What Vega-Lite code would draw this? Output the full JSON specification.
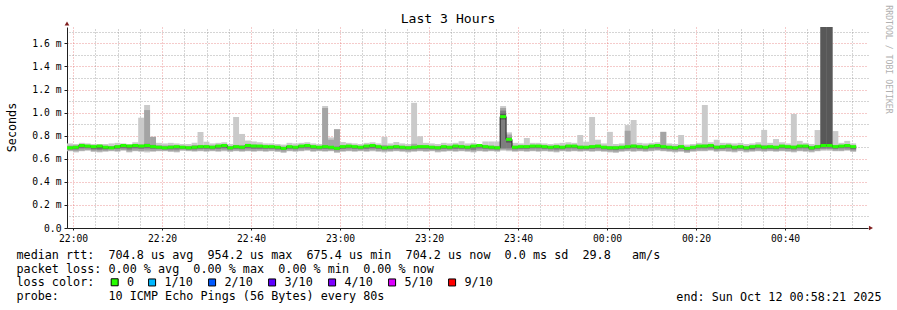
{
"$schema": "https://vega.github.io/schema/vega-lite/v6.json",
"width": 801, "height": 201,
"autosize": {"type": "none"},
"padding": {"left": 67, "top": 27, "right": 29, "bottom": 82},
"background": "white",
"config": {"view": {"stroke": null}, "font": "DejaVu Sans Mono"},
"title": {"text": "Last 3 Hours", "font": "DejaVu Sans Mono", "fontSize": 13.1, "fontWeight": "normal", "color": "black", "anchor": "middle", "dx": -19.5, "offset": -31.8, "baseline": "alphabetic"},
"data": {"values": [
{"i":0,"j":1,"a":0.665,"b":0.733,"c":0.67,"d":0.715,"e":0.68,"f":0.705,"g":0.688,"h":0.7,"m":0.695},
{"i":1,"j":2,"a":0.655,"b":0.728,"c":0.665,"d":0.715,"e":0.68,"f":0.71,"g":0.69,"h":0.705,"m":0.7},
{"i":2,"j":3,"a":0.665,"b":0.738,"c":0.67,"d":0.72,"e":0.69,"f":0.72,"g":0.7,"h":0.718,"m":0.715},
{"i":3,"j":4,"a":0.67,"b":0.733,"c":0.675,"d":0.72,"e":0.69,"f":0.715,"g":0.7,"h":0.712,"m":0.71},
{"i":4,"j":5,"a":0.66,"b":0.728,"c":0.665,"d":0.715,"e":0.68,"f":0.71,"g":0.69,"h":0.708,"m":0.705},
{"i":5,"j":6,"a":0.655,"b":0.728,"c":0.663,"d":0.715,"e":0.678,"f":0.712,"g":0.69,"h":0.712,"m":0.71},
{"i":6,"j":7,"a":0.66,"b":0.728,"c":0.667,"d":0.712,"e":0.68,"f":0.708,"g":0.685,"h":0.703,"m":0.7},
{"i":7,"j":8,"a":0.665,"b":0.733,"c":0.67,"d":0.71,"e":0.685,"f":0.705,"g":0.69,"h":0.7,"m":0.695},
{"i":8,"j":9,"a":0.66,"b":0.738,"c":0.667,"d":0.718,"e":0.685,"f":0.71,"g":0.695,"h":0.708,"m":0.705},
{"i":9,"j":10,"a":0.67,"b":0.733,"c":0.675,"d":0.72,"e":0.69,"f":0.718,"g":0.7,"h":0.716,"m":0.715},
{"i":10,"j":11,"a":0.655,"b":0.728,"c":0.663,"d":0.715,"e":0.68,"f":0.712,"g":0.695,"h":0.712,"m":0.71},
{"i":11,"j":12,"a":0.665,"b":0.743,"c":0.67,"d":0.725,"e":0.69,"f":0.72,"g":0.7,"h":0.718,"m":0.715},
{"i":12,"j":13,"a":0.66,"b":0.956,"c":0.667,"d":0.725,"e":0.685,"f":0.715,"g":0.7,"h":0.712,"m":0.71},
{"i":13,"j":14,"a":0.655,"b":1.066,"c":0.67,"d":1.022,"e":0.69,"f":0.73,"g":0.7,"h":0.718,"m":0.715},
{"i":14,"j":15,"a":0.66,"b":0.79,"c":0.667,"d":0.79,"e":0.685,"f":0.72,"g":0.695,"h":0.71,"m":0.705},
{"i":15,"j":16,"a":0.665,"b":0.738,"c":0.67,"d":0.718,"e":0.685,"f":0.71,"g":0.692,"h":0.703,"m":0.7},
{"i":16,"j":17,"a":0.665,"b":0.733,"c":0.67,"d":0.715,"e":0.68,"f":0.705,"g":0.688,"h":0.7,"m":0.695},
{"i":17,"j":18,"a":0.66,"b":0.738,"c":0.665,"d":0.718,"e":0.68,"f":0.71,"g":0.69,"h":0.703,"m":0.7},
{"i":18,"j":19,"a":0.655,"b":0.733,"c":0.663,"d":0.715,"e":0.68,"f":0.71,"g":0.695,"h":0.708,"m":0.705},
{"i":19,"j":20,"a":0.67,"b":0.728,"c":0.673,"d":0.712,"e":0.685,"f":0.708,"g":0.692,"h":0.703,"m":0.7},
{"i":20,"j":21,"a":0.665,"b":0.728,"c":0.67,"d":0.71,"e":0.68,"f":0.705,"g":0.688,"h":0.7,"m":0.695},
{"i":21,"j":22,"a":0.66,"b":0.738,"c":0.667,"d":0.72,"e":0.68,"f":0.71,"g":0.692,"h":0.705,"m":0.7},
{"i":22,"j":23,"a":0.665,"b":0.832,"c":0.67,"d":0.72,"e":0.685,"f":0.712,"g":0.695,"h":0.708,"m":0.705},
{"i":23,"j":24,"a":0.66,"b":0.748,"c":0.667,"d":0.72,"e":0.685,"f":0.712,"g":0.695,"h":0.708,"m":0.705},
{"i":24,"j":25,"a":0.665,"b":0.733,"c":0.67,"d":0.715,"e":0.682,"f":0.708,"g":0.692,"h":0.703,"m":0.7},
{"i":25,"j":26,"a":0.66,"b":0.738,"c":0.667,"d":0.72,"e":0.685,"f":0.715,"g":0.7,"h":0.712,"m":0.71},
{"i":26,"j":27,"a":0.665,"b":0.743,"c":0.673,"d":0.725,"e":0.69,"f":0.72,"g":0.7,"h":0.718,"m":0.715},
{"i":27,"j":28,"a":0.66,"b":0.728,"c":0.665,"d":0.71,"e":0.68,"f":0.705,"g":0.688,"h":0.7,"m":0.695},
{"i":28,"j":29,"a":0.665,"b":0.962,"c":0.67,"d":0.72,"e":0.685,"f":0.712,"g":0.695,"h":0.708,"m":0.705},
{"i":29,"j":30,"a":0.66,"b":0.815,"c":0.667,"d":0.72,"e":0.682,"f":0.71,"g":0.692,"h":0.705,"m":0.7},
{"i":30,"j":31,"a":0.665,"b":0.758,"c":0.67,"d":0.73,"e":0.69,"f":0.72,"g":0.7,"h":0.718,"m":0.715},
{"i":31,"j":32,"a":0.66,"b":0.75,"c":0.667,"d":0.725,"e":0.685,"f":0.715,"g":0.7,"h":0.712,"m":0.71},
{"i":32,"j":33,"a":0.665,"b":0.743,"c":0.67,"d":0.72,"e":0.685,"f":0.715,"g":0.7,"h":0.712,"m":0.71},
{"i":33,"j":34,"a":0.66,"b":0.733,"c":0.667,"d":0.715,"e":0.685,"f":0.71,"g":0.695,"h":0.708,"m":0.705},
{"i":34,"j":35,"a":0.665,"b":0.733,"c":0.67,"d":0.715,"e":0.685,"f":0.71,"g":0.695,"h":0.708,"m":0.705},
{"i":35,"j":36,"a":0.66,"b":0.728,"c":0.665,"d":0.712,"e":0.68,"f":0.708,"g":0.692,"h":0.703,"m":0.7},
{"i":36,"j":37,"a":0.65,"b":0.723,"c":0.66,"d":0.705,"e":0.675,"f":0.7,"g":0.685,"h":0.695,"m":0.69},
{"i":37,"j":38,"a":0.665,"b":0.738,"c":0.67,"d":0.715,"e":0.685,"f":0.71,"g":0.695,"h":0.708,"m":0.705},
{"i":38,"j":39,"a":0.66,"b":0.733,"c":0.667,"d":0.712,"e":0.682,"f":0.708,"g":0.692,"h":0.703,"m":0.7},
{"i":39,"j":40,"a":0.665,"b":0.738,"c":0.67,"d":0.72,"e":0.69,"f":0.715,"g":0.7,"h":0.712,"m":0.71},
{"i":40,"j":41,"a":0.67,"b":0.743,"c":0.675,"d":0.725,"e":0.69,"f":0.72,"g":0.705,"h":0.718,"m":0.715},
{"i":41,"j":42,"a":0.66,"b":0.733,"c":0.667,"d":0.715,"e":0.685,"f":0.71,"g":0.695,"h":0.708,"m":0.705},
{"i":42,"j":43,"a":0.665,"b":0.728,"c":0.67,"d":0.712,"e":0.682,"f":0.708,"g":0.692,"h":0.703,"m":0.7},
{"i":43,"j":44,"a":0.66,"b":1.057,"c":0.667,"d":1.04,"e":0.685,"f":0.715,"g":0.695,"h":0.708,"m":0.705},
{"i":44,"j":45,"a":0.665,"b":0.785,"c":0.67,"d":0.765,"e":0.682,"f":0.71,"g":0.692,"h":0.703,"m":0.7},
{"i":45,"j":46,"a":0.65,"b":0.858,"c":0.66,"d":0.855,"e":0.675,"f":0.705,"g":0.685,"h":0.695,"m":0.69},
{"i":46,"j":47,"a":0.66,"b":0.745,"c":0.667,"d":0.72,"e":0.685,"f":0.71,"g":0.695,"h":0.708,"m":0.705},
{"i":47,"j":48,"a":0.665,"b":0.738,"c":0.67,"d":0.72,"e":0.69,"f":0.715,"g":0.7,"h":0.712,"m":0.71},
{"i":48,"j":49,"a":0.66,"b":0.733,"c":0.667,"d":0.715,"e":0.685,"f":0.71,"g":0.695,"h":0.708,"m":0.705},
{"i":49,"j":50,"a":0.665,"b":0.728,"c":0.67,"d":0.712,"e":0.682,"f":0.708,"g":0.692,"h":0.703,"m":0.7},
{"i":50,"j":51,"a":0.66,"b":0.738,"c":0.667,"d":0.72,"e":0.685,"f":0.715,"g":0.7,"h":0.712,"m":0.71},
{"i":51,"j":52,"a":0.665,"b":0.743,"c":0.673,"d":0.725,"e":0.69,"f":0.72,"g":0.7,"h":0.718,"m":0.715},
{"i":52,"j":53,"a":0.66,"b":0.733,"c":0.667,"d":0.715,"e":0.685,"f":0.71,"g":0.695,"h":0.708,"m":0.705},
{"i":53,"j":54,"a":0.655,"b":0.79,"c":0.665,"d":0.72,"e":0.68,"f":0.705,"g":0.688,"h":0.7,"m":0.695},
{"i":54,"j":55,"a":0.66,"b":0.733,"c":0.667,"d":0.712,"e":0.682,"f":0.708,"g":0.692,"h":0.703,"m":0.7},
{"i":55,"j":56,"a":0.665,"b":0.745,"c":0.67,"d":0.72,"e":0.685,"f":0.71,"g":0.695,"h":0.708,"m":0.705},
{"i":56,"j":57,"a":0.66,"b":0.733,"c":0.667,"d":0.712,"e":0.682,"f":0.708,"g":0.692,"h":0.703,"m":0.7},
{"i":57,"j":58,"a":0.655,"b":0.728,"c":0.663,"d":0.71,"e":0.68,"f":0.705,"g":0.688,"h":0.7,"m":0.695},
{"i":58,"j":59,"a":0.66,"b":1.085,"c":0.667,"d":0.73,"e":0.682,"f":0.71,"g":0.692,"h":0.703,"m":0.7},
{"i":59,"j":60,"a":0.665,"b":0.795,"c":0.67,"d":0.72,"e":0.685,"f":0.71,"g":0.695,"h":0.708,"m":0.705},
{"i":60,"j":61,"a":0.66,"b":0.738,"c":0.667,"d":0.715,"e":0.685,"f":0.71,"g":0.695,"h":0.708,"m":0.705},
{"i":61,"j":62,"a":0.665,"b":0.733,"c":0.67,"d":0.712,"e":0.682,"f":0.708,"g":0.692,"h":0.703,"m":0.7},
{"i":62,"j":63,"a":0.655,"b":0.728,"c":0.663,"d":0.71,"e":0.68,"f":0.705,"g":0.688,"h":0.7,"m":0.695},
{"i":63,"j":64,"a":0.66,"b":0.738,"c":0.667,"d":0.715,"e":0.685,"f":0.71,"g":0.695,"h":0.708,"m":0.705},
{"i":64,"j":65,"a":0.665,"b":0.733,"c":0.67,"d":0.712,"e":0.682,"f":0.708,"g":0.692,"h":0.703,"m":0.7},
{"i":65,"j":66,"a":0.66,"b":0.738,"c":0.667,"d":0.72,"e":0.685,"f":0.715,"g":0.7,"h":0.712,"m":0.71},
{"i":66,"j":67,"a":0.665,"b":0.752,"c":0.67,"d":0.72,"e":0.685,"f":0.71,"g":0.695,"h":0.708,"m":0.705},
{"i":67,"j":68,"a":0.66,"b":0.733,"c":0.667,"d":0.712,"e":0.682,"f":0.708,"g":0.692,"h":0.703,"m":0.7},
{"i":68,"j":69,"a":0.655,"b":0.738,"c":0.663,"d":0.72,"e":0.678,"f":0.715,"g":0.7,"h":0.712,"m":0.71},
{"i":69,"j":70,"a":0.665,"b":0.728,"c":0.67,"d":0.72,"e":0.69,"f":0.718,"g":0.705,"h":0.716,"m":0.715},
{"i":70,"j":71,"a":0.66,"b":0.75,"c":0.667,"d":0.72,"e":0.685,"f":0.71,"g":0.695,"h":0.708,"m":0.705},
{"i":71,"j":72,"a":0.665,"b":0.75,"c":0.67,"d":0.715,"e":0.682,"f":0.708,"g":0.692,"h":0.703,"m":0.7},
{"i":72,"j":73,"a":0.66,"b":0.75,"c":0.667,"d":0.712,"e":0.68,"f":0.705,"g":0.688,"h":0.7,"m":0.695},
{"i":73,"j":74,"a":0.67,"b":1.057,"c":0.68,"d":1.04,"e":0.69,"f":1.017,"g":0.94,"h":0.99,"m":0.965},
{"i":74,"j":75,"a":0.665,"b":0.829,"c":0.675,"d":0.81,"e":0.69,"f":0.785,"g":0.74,"h":0.775,"m":0.768},
{"i":75,"j":76,"a":0.66,"b":0.738,"c":0.667,"d":0.715,"e":0.682,"f":0.708,"g":0.692,"h":0.703,"m":0.7},
{"i":76,"j":77,"a":0.665,"b":0.733,"c":0.67,"d":0.715,"e":0.685,"f":0.71,"g":0.695,"h":0.708,"m":0.705},
{"i":77,"j":78,"a":0.66,"b":0.78,"c":0.667,"d":0.72,"e":0.685,"f":0.71,"g":0.695,"h":0.708,"m":0.705},
{"i":78,"j":79,"a":0.665,"b":0.738,"c":0.67,"d":0.72,"e":0.69,"f":0.715,"g":0.7,"h":0.712,"m":0.71},
{"i":79,"j":80,"a":0.66,"b":0.738,"c":0.667,"d":0.72,"e":0.69,"f":0.715,"g":0.7,"h":0.712,"m":0.71},
{"i":80,"j":81,"a":0.665,"b":0.733,"c":0.67,"d":0.715,"e":0.685,"f":0.71,"g":0.695,"h":0.708,"m":0.705},
{"i":81,"j":82,"a":0.66,"b":0.728,"c":0.667,"d":0.712,"e":0.682,"f":0.708,"g":0.692,"h":0.703,"m":0.7},
{"i":82,"j":83,"a":0.655,"b":0.733,"c":0.663,"d":0.715,"e":0.68,"f":0.71,"g":0.695,"h":0.708,"m":0.705},
{"i":83,"j":84,"a":0.665,"b":0.738,"c":0.67,"d":0.712,"e":0.682,"f":0.708,"g":0.692,"h":0.703,"m":0.7},
{"i":84,"j":85,"a":0.66,"b":0.743,"c":0.667,"d":0.72,"e":0.69,"f":0.715,"g":0.7,"h":0.712,"m":0.71},
{"i":85,"j":86,"a":0.665,"b":0.738,"c":0.67,"d":0.72,"e":0.69,"f":0.715,"g":0.7,"h":0.712,"m":0.71},
{"i":86,"j":87,"a":0.66,"b":0.805,"c":0.667,"d":0.715,"e":0.682,"f":0.708,"g":0.692,"h":0.703,"m":0.7},
{"i":87,"j":88,"a":0.665,"b":0.748,"c":0.67,"d":0.712,"e":0.682,"f":0.708,"g":0.692,"h":0.703,"m":0.7},
{"i":88,"j":89,"a":0.66,"b":0.962,"c":0.667,"d":0.72,"e":0.685,"f":0.71,"g":0.695,"h":0.708,"m":0.705},
{"i":89,"j":90,"a":0.665,"b":0.765,"c":0.67,"d":0.72,"e":0.69,"f":0.715,"g":0.7,"h":0.712,"m":0.71},
{"i":90,"j":91,"a":0.66,"b":0.733,"c":0.667,"d":0.712,"e":0.682,"f":0.708,"g":0.692,"h":0.703,"m":0.7},
{"i":91,"j":92,"a":0.655,"b":0.833,"c":0.663,"d":0.71,"e":0.678,"f":0.705,"g":0.688,"h":0.7,"m":0.695},
{"i":92,"j":93,"a":0.65,"b":0.728,"c":0.66,"d":0.71,"e":0.675,"f":0.705,"g":0.688,"h":0.7,"m":0.695},
{"i":93,"j":94,"a":0.66,"b":0.733,"c":0.667,"d":0.712,"e":0.682,"f":0.708,"g":0.692,"h":0.703,"m":0.7},
{"i":94,"j":95,"a":0.665,"b":0.892,"c":0.67,"d":0.843,"e":0.685,"f":0.71,"g":0.695,"h":0.708,"m":0.705},
{"i":95,"j":96,"a":0.66,"b":0.936,"c":0.667,"d":0.725,"e":0.69,"f":0.715,"g":0.7,"h":0.712,"m":0.71},
{"i":96,"j":97,"a":0.665,"b":0.738,"c":0.67,"d":0.715,"e":0.685,"f":0.71,"g":0.695,"h":0.708,"m":0.705},
{"i":97,"j":98,"a":0.66,"b":0.733,"c":0.667,"d":0.712,"e":0.682,"f":0.708,"g":0.692,"h":0.703,"m":0.7},
{"i":98,"j":99,"a":0.665,"b":0.738,"c":0.67,"d":0.72,"e":0.69,"f":0.715,"g":0.7,"h":0.712,"m":0.71},
{"i":99,"j":100,"a":0.67,"b":0.743,"c":0.675,"d":0.725,"e":0.69,"f":0.72,"g":0.705,"h":0.718,"m":0.715},
{"i":100,"j":101,"a":0.665,"b":0.835,"c":0.67,"d":0.832,"e":0.685,"f":0.71,"g":0.695,"h":0.708,"m":0.705},
{"i":101,"j":102,"a":0.66,"b":0.733,"c":0.667,"d":0.712,"e":0.682,"f":0.708,"g":0.692,"h":0.703,"m":0.7},
{"i":102,"j":103,"a":0.655,"b":0.728,"c":0.663,"d":0.71,"e":0.678,"f":0.705,"g":0.688,"h":0.7,"m":0.695},
{"i":103,"j":104,"a":0.66,"b":0.806,"c":0.667,"d":0.72,"e":0.685,"f":0.71,"g":0.695,"h":0.708,"m":0.705},
{"i":104,"j":105,"a":0.65,"b":0.723,"c":0.657,"d":0.705,"e":0.672,"f":0.7,"g":0.682,"h":0.695,"m":0.69},
{"i":105,"j":106,"a":0.66,"b":0.728,"c":0.667,"d":0.712,"e":0.682,"f":0.708,"g":0.692,"h":0.703,"m":0.7},
{"i":106,"j":107,"a":0.665,"b":0.738,"c":0.67,"d":0.72,"e":0.69,"f":0.715,"g":0.7,"h":0.712,"m":0.71},
{"i":107,"j":108,"a":0.665,"b":1.066,"c":0.67,"d":0.725,"e":0.69,"f":0.715,"g":0.7,"h":0.712,"m":0.71},
{"i":108,"j":109,"a":0.67,"b":0.743,"c":0.675,"d":0.725,"e":0.69,"f":0.72,"g":0.705,"h":0.718,"m":0.715},
{"i":109,"j":110,"a":0.66,"b":0.765,"c":0.667,"d":0.715,"e":0.682,"f":0.708,"g":0.692,"h":0.703,"m":0.7},
{"i":110,"j":111,"a":0.665,"b":0.738,"c":0.67,"d":0.715,"e":0.685,"f":0.71,"g":0.695,"h":0.708,"m":0.705},
{"i":111,"j":112,"a":0.66,"b":0.738,"c":0.667,"d":0.72,"e":0.69,"f":0.715,"g":0.7,"h":0.712,"m":0.71},
{"i":112,"j":113,"a":0.655,"b":0.733,"c":0.663,"d":0.712,"e":0.68,"f":0.708,"g":0.692,"h":0.703,"m":0.7},
{"i":113,"j":114,"a":0.665,"b":0.738,"c":0.67,"d":0.715,"e":0.685,"f":0.71,"g":0.695,"h":0.708,"m":0.705},
{"i":114,"j":115,"a":0.655,"b":0.728,"c":0.663,"d":0.71,"e":0.678,"f":0.705,"g":0.688,"h":0.7,"m":0.695},
{"i":115,"j":116,"a":0.66,"b":0.733,"c":0.667,"d":0.715,"e":0.68,"f":0.71,"g":0.69,"h":0.708,"m":0.705},
{"i":116,"j":117,"a":0.665,"b":0.743,"c":0.67,"d":0.72,"e":0.69,"f":0.715,"g":0.7,"h":0.712,"m":0.71},
{"i":117,"j":118,"a":0.66,"b":0.85,"c":0.667,"d":0.72,"e":0.682,"f":0.708,"g":0.692,"h":0.703,"m":0.7},
{"i":118,"j":119,"a":0.665,"b":0.738,"c":0.67,"d":0.715,"e":0.685,"f":0.71,"g":0.695,"h":0.708,"m":0.705},
{"i":119,"j":120,"a":0.66,"b":0.771,"c":0.667,"d":0.712,"e":0.682,"f":0.708,"g":0.692,"h":0.703,"m":0.7},
{"i":120,"j":121,"a":0.665,"b":0.743,"c":0.67,"d":0.72,"e":0.69,"f":0.715,"g":0.7,"h":0.712,"m":0.71},
{"i":121,"j":122,"a":0.66,"b":0.733,"c":0.667,"d":0.715,"e":0.685,"f":0.71,"g":0.695,"h":0.708,"m":0.705},
{"i":122,"j":123,"a":0.655,"b":0.988,"c":0.663,"d":0.715,"e":0.68,"f":0.708,"g":0.692,"h":0.703,"m":0.7},
{"i":123,"j":124,"a":0.665,"b":0.755,"c":0.67,"d":0.72,"e":0.69,"f":0.715,"g":0.7,"h":0.712,"m":0.71},
{"i":124,"j":125,"a":0.66,"b":0.738,"c":0.667,"d":0.72,"e":0.69,"f":0.715,"g":0.7,"h":0.712,"m":0.71},
{"i":125,"j":126,"a":0.655,"b":0.728,"c":0.663,"d":0.71,"e":0.678,"f":0.705,"g":0.688,"h":0.7,"m":0.695},
{"i":126,"j":127,"a":0.665,"b":0.849,"c":0.67,"d":0.72,"e":0.685,"f":0.71,"g":0.695,"h":0.708,"m":0.705},
{"i":127,"j":128,"a":0.67,"b":1.8,"c":0.68,"d":1.8,"e":0.69,"f":1.8,"g":0.705,"h":1.8,"m":0.715},
{"i":128,"j":129,"a":0.67,"b":1.8,"c":0.68,"d":1.8,"e":0.69,"f":1.8,"g":0.705,"h":1.8,"m":0.715},
{"i":129,"j":130,"a":0.665,"b":0.84,"c":0.67,"d":0.72,"e":0.685,"f":0.71,"g":0.695,"h":0.708,"m":0.705},
{"i":130,"j":131,"a":0.665,"b":0.738,"c":0.67,"d":0.72,"e":0.69,"f":0.715,"g":0.7,"h":0.712,"m":0.71},
{"i":131,"j":132,"a":0.67,"b":0.755,"c":0.675,"d":0.725,"e":0.69,"f":0.72,"g":0.705,"h":0.718,"m":0.715},
{"i":132,"j":133,"a":0.66,"b":0.733,"c":0.665,"d":0.715,"e":0.68,"f":0.71,"g":0.69,"h":0.708,"m":0.705}
]},
"layer": [
{"mark": {"type": "rect", "color": "#cacaca", "clip": true},
 "encoding": {
  "x": {"field": "i", "type": "quantitative", "scale": {"domain": [0, 135], "nice": false, "zero": false},
   "axis": {"orient": "bottom", "values": [1.03, 16.03, 31.03, 46.03, 61.03, 76.03, 91.03, 106.03, 121.03],
    "labelExpr": "['22:00','22:20','22:40','23:00','23:20','23:40','00:00','00:20','00:40'][round((datum.value-1.03)/15)]",
    "labelFont": "DejaVu Sans Mono", "labelFontSize": 9.7, "labelColor": "black", "labelPadding": 3, "labelFlush": false, "labelOverlap": false,
    "ticks": true, "tickSize": 2, "tickColor": "#1f1f1f", "domain": true, "domainColor": "#1f1f1f", "domainWidth": 1,
    "grid": true, "gridColor": "#de5050", "gridOpacity": 0.6, "gridDash": [1, 2],
    "title": ["median\u00a0rtt:\u00a0\u00a0704.8\u00a0us\u00a0avg\u00a0\u00a0954.2\u00a0us\u00a0max\u00a0\u00a0675.4\u00a0us\u00a0min\u00a0\u00a0704.2\u00a0us\u00a0now\u00a0\u00a00.0\u00a0ms\u00a0sd\u00a0\u00a029.8\u00a0\u00a0\u00a0am/s", "packet\u00a0loss:\u00a00.00\u00a0%\u00a0avg\u00a0\u00a00.00\u00a0%\u00a0max\u00a0\u00a00.00\u00a0%\u00a0min\u00a0\u00a00.00\u00a0%\u00a0now", "loss\u00a0color:", "probe:\u00a0\u00a0\u00a0\u00a0\u00a0\u00a0\u00a010\u00a0ICMP\u00a0Echo\u00a0Pings\u00a0(56\u00a0Bytes)\u00a0every\u00a080s"],
    "titleFont": "DejaVu Sans Mono", "titleFontSize": 11.76, "titleFontWeight": "normal", "titleColor": "black",
    "titleAlign": "left", "titleBaseline": "top", "titleLineHeight": 13.6, "titleX": -51, "titleY": 21.7, "titleAngle": 0}},
  "x2": {"field": "j"},
  "y": {"field": "a", "type": "quantitative", "scale": {"domain": [0, 1.742], "nice": false, "zero": true},
   "axis": {"orient": "left", "values": [0, 0.2, 0.4, 0.6, 0.8, 1.0, 1.2, 1.4, 1.6],
    "labelExpr": "datum.value == 0 ? '0.0\u00a0\u00a0' : format(datum.value, '.1f') + '\u00a0m'",
    "labelFont": "DejaVu Sans Mono", "labelFontSize": 9.7, "labelColor": "black", "labelPadding": 3, "labelFlush": false, "labelOverlap": false,
    "tickSize": 3, "tickColor": "#1f1f1f", "domainColor": "#1f1f1f",
    "grid": true, "gridColor": "#de5050", "gridOpacity": 0.6, "gridDash": [1, 2],
    "title": "Seconds", "titleFont": "DejaVu Sans Mono", "titleFontSize": 11.76, "titleFontWeight": "normal", "titleColor": "black",
    "titleX": -56, "titleY": 100, "titleAngle": -90, "titleAlign": "center", "titleBaseline": "middle"}},
  "y2": {"field": "b"}
 }},
{"mark": {"type": "rect", "color": "#a4a4a4", "clip": true},
 "encoding": {
  "x": {"field": "i", "type": "quantitative",
   "axis": {"orient": "top", "values": [4.78, 8.53, 12.28, 19.78, 23.53, 27.28, 34.78, 38.53, 42.28, 49.78, 53.53, 57.28, 64.78, 68.53, 72.28, 79.78, 83.53, 87.28, 94.78, 98.53, 102.28, 109.78, 113.53, 117.28, 124.78, 128.53, 132.28],
    "labels": false, "ticks": false, "domain": false,
    "grid": true, "gridColor": "#8f8f8f", "gridOpacity": 0.75, "gridDash": [1, 2],
    "title": "end:\u00a0Sun\u00a0Oct\u00a012\u00a000:58:21\u00a02025", "titleFont": "DejaVu Sans Mono", "titleFontSize": 11.76, "titleFontWeight": "normal", "titleColor": "black",
    "titleX": 814, "titleY": 269.2, "titleAlign": "right", "titleBaseline": "middle", "titleAngle": 0}},
  "x2": {"field": "j"},
  "y": {"field": "c", "type": "quantitative",
   "axis": {"orient": "right", "values": [0.1, 0.3, 0.5, 0.7, 0.9, 1.1, 1.3, 1.5, 1.7],
    "labels": false, "ticks": false, "domain": false,
    "grid": true, "gridColor": "#8f8f8f", "gridOpacity": 0.75, "gridDash": [1, 2],
    "title": "RRDTOOL\u00a0/\u00a0TOBI\u00a0OETIKER", "titleFont": "DejaVu Sans Mono", "titleFontSize": 8.2, "titleFontWeight": "normal", "titleColor": "#b0b0b0",
    "titleX": 19, "titleY": 32, "titleAngle": 90, "titleAlign": "center", "titleBaseline": "middle"}},
  "y2": {"field": "d"}
 }},
{"mark": {"type": "rect", "color": "#7e7e7e", "clip": true},
 "encoding": {
  "x": {"field": "i", "type": "quantitative", "axis": null}, "x2": {"field": "j"},
  "y": {"field": "e", "type": "quantitative", "axis": null}, "y2": {"field": "f"}}},
{"mark": {"type": "rect", "color": "#585858", "clip": true},
 "encoding": {
  "x": {"field": "i", "type": "quantitative", "axis": null}, "x2": {"field": "j"},
  "y": {"field": "g", "type": "quantitative", "axis": null}, "y2": {"field": "h"}}},
{"mark": {"type": "line", "interpolate": "step-after", "color": "#202020", "strokeWidth": 1, "clip": true},
 "encoding": {
  "x": {"field": "i", "type": "quantitative", "axis": null},
  "y": {"field": "m", "type": "quantitative", "axis": null}}},
{"mark": {"type": "rule", "strokeWidth": 3, "strokeCap": "butt", "color": "#26ff00", "clip": true},
 "encoding": {
  "x": {"field": "i", "type": "quantitative", "axis": null}, "x2": {"field": "j"},
  "y": {"field": "m", "type": "quantitative", "axis": null}}},
{"mark": {"type": "point", "shape": "square", "filled": true, "opacity": 0, "size": 4},
 "encoding": {
  "x": {"field": "i", "type": "quantitative", "axis": null},
  "y": {"field": "m", "type": "quantitative", "axis": null},
  "color": {"datum": "0", "type": "nominal",
   "scale": {"domain": ["0"], "range": ["#26ff00"]},
   "legend": {"orient": "none", "legendX": 41.8, "legendY": 249.4, "direction": "horizontal", "title": null,
    "symbolType": "square", "symbolSize": 49, "symbolStrokeWidth": 1, "symbolStrokeColor": "black", "symbolOpacity": 1,
    "labelFont": "DejaVu Sans Mono", "labelFontSize": 11.76, "labelColor": "black", "labelOffset": 6.5, "padding": 0,
    "encode": {"symbols": {"update": {"stroke": {"value": "black"}, "strokeWidth": {"value": 1}, "opacity": {"value": 1}}}}}}
 }},
{"mark": {"type": "point", "shape": "square", "filled": true, "opacity": 0, "size": 4},
 "encoding": {
  "x": {"field": "i", "type": "quantitative", "axis": null},
  "y": {"field": "m", "type": "quantitative", "axis": null},
  "fill": {"datum": "1/10", "type": "nominal",
   "scale": {"domain": ["1/10", "2/10", "3/10", "4/10", "5/10", "9/10"], "range": ["#00b8ff", "#0059ff", "#5e00ff", "#7e00ff", "#dd00ff", "#ff0000"]},
   "legend": {"orient": "none", "legendX": 79.2, "legendY": 249.4, "direction": "horizontal", "title": null, "columns": 6, "gridAlign": "all",
    "symbolType": "square", "symbolSize": 49, "symbolStrokeWidth": 1, "symbolStrokeColor": "black", "symbolOpacity": 1,
    "labelFont": "DejaVu Sans Mono", "labelFontSize": 11.76, "labelColor": "black", "labelOffset": 6.5, "columnPadding": 13, "padding": 0,
    "encode": {"symbols": {"update": {"stroke": {"value": "black"}, "strokeWidth": {"value": 1}, "opacity": {"value": 1}}}}}}
 }},
{"data": {"values": [{"k": 1}]},
 "mark": {"type": "point", "shape": "triangle-up", "filled": true, "color": "#801f1f", "size": 22, "opacity": 1},
 "encoding": {
  "x": {"datum": 0, "type": "quantitative", "axis": null},
  "y": {"datum": 1.772, "type": "quantitative", "axis": null}}},
{"data": {"values": [{"k": 1}]},
 "mark": {"type": "point", "shape": "triangle-right", "filled": true, "color": "#801f1f", "size": 22, "opacity": 1},
 "encoding": {
  "x": {"datum": 135.5, "type": "quantitative", "axis": null},
  "y": {"datum": 0, "type": "quantitative", "axis": null}}}
],
"resolve": {"axis": {"x": "independent", "y": "independent"}}
}
